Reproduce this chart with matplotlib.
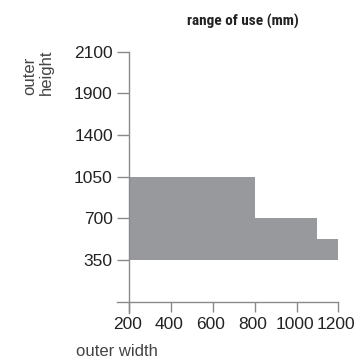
import numpy as np
import matplotlib
matplotlib.use("Agg")
import matplotlib.pyplot as plt
from matplotlib import font_manager
from matplotlib.transforms import ScaledTranslation

# range of use, mm
width_edges = [200, 800, 1100, 1200]
height_top = [1050, 700, 525]
height_bottom = 350

x_ticks = [200, 400, 600, 800, 1000, 1200]
y_tick_values = [350, 700, 1050, 1400, 1900, 2100]

title = "range of use (mm)"
x_label = "outer width"
y_label = "outer\nheight"

line_col = "#8a8a8a"
fill_col = "#98999d"
text_col = "#222222"

plt.rcParams["font.family"] = ["Liberation Sans", "DejaVu Sans"]


def condensed_title_font():
    # try to find some narrow bold face, else plain bold
    for fam in ["Roboto Condensed", "Liberation Sans Narrow", "Open Sans Condensed",
                "Noto Sans Condensed", "DejaVu Sans Condensed"]:
        try:
            font_manager.findfont(font_manager.FontProperties(family=fam, weight="bold"),
                                  fallback_to_default=False)
            return dict(family=fam, weight="bold"), 11
        except ValueError:
            pass
    fp = font_manager.FontProperties(family="DejaVu Sans", weight="bold", stretch="condensed")
    path = font_manager.findfont(fp)
    if "Condensed" in path:
        return dict(family="DejaVu Sans", weight="bold", stretch="condensed"), 10
    return dict(family="DejaVu Sans", weight="bold"), 8.2


# y axis is not linear: ticks evenly spaced
y_pos = np.arange(1, len(y_tick_values) + 1)


def to_pos(v):
    return np.interp(v, y_tick_values, y_pos)


fig = plt.figure(figsize=(3.55, 3.58), dpi=100)
ybot = -0.26
ax = fig.add_axes([116.5 / 355, 1 - (51.7 + (6 - ybot) * 41.67) / 358,
                   221.8 / 355, (6 - ybot) * 41.67 / 358])

tops = [to_pos(h) for h in height_top] + [to_pos(height_top[-1])]
ax.fill_between(width_edges, to_pos(height_bottom), tops, step="post",
                color=fill_col, linewidth=0)

ax.set_xlim(138, 1200)
ax.set_ylim(ybot, 6)

for s in ["top", "right"]:
    ax.spines[s].set_visible(False)
ax.spines["left"].set_position(("data", 200))
ax.spines["bottom"].set_position(("data", 0))
for s in ["left", "bottom"]:
    ax.spines[s].set_color(line_col)
    ax.spines[s].set_linewidth(1.0)

ax.set_xticks(x_ticks)
ax.set_xticklabels([str(t) for t in x_ticks])
ax.set_yticks(y_pos)
ax.set_yticklabels([str(t) for t in y_tick_values])
ax.tick_params(axis="x", direction="out", length=7.5, width=1.0, color=line_col,
               pad=3.5, labelsize=12.5, labelcolor=text_col)
ax.tick_params(axis="y", direction="out", length=8.4, width=1.0, color=line_col,
               pad=3.6, labelsize=12.5, labelcolor=text_col)

# labels sit a touch left of their ticks in the original
shift = ScaledTranslation(-2 / 100, 0, fig.dpi_scale_trans)
for lab in ax.get_xticklabels():
    lab.set_transform(lab.get_transform() + shift)

tfont, tsize = condensed_title_font()
fig.text(243 / 355, 1 - 21 / 358, title, ha="center", va="center",
         fontsize=tsize, color=text_col, **tfont)
fig.text(76 / 355, 1 - 352 / 358, x_label, ha="left", va="center",
         fontsize=12, color="#444444")
fig.text(38 / 355, 1 - 95 / 358, y_label, ha="center", va="bottom",
         rotation=90, multialignment="left", fontsize=12, color="#444444",
         linespacing=1.2)

fig.savefig("out.png", dpi=100)
